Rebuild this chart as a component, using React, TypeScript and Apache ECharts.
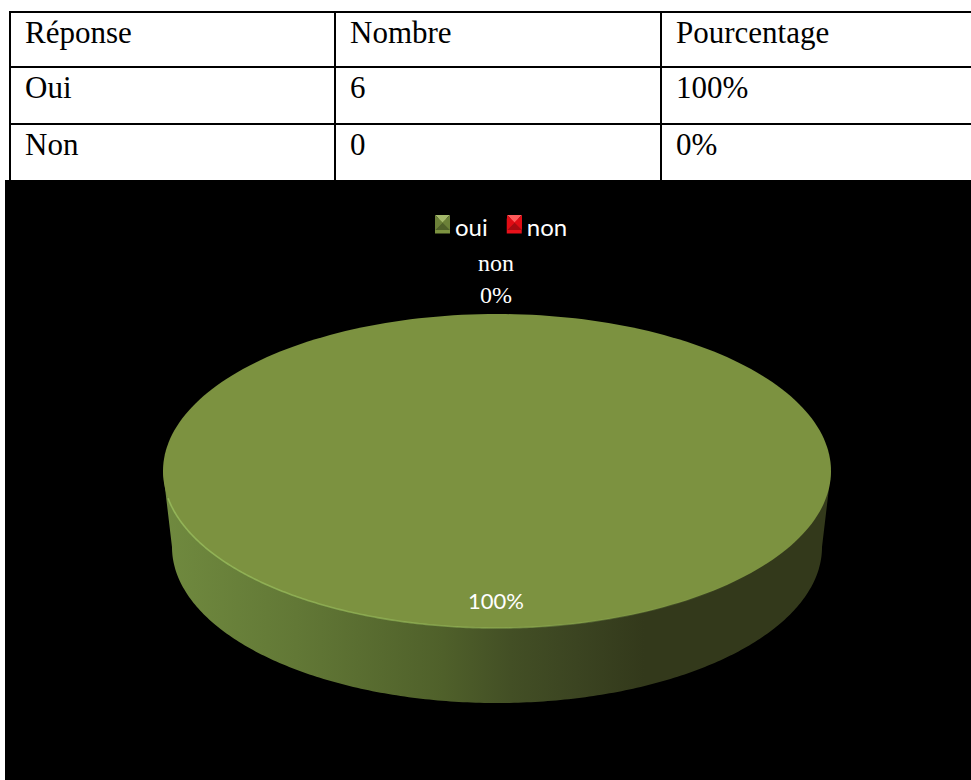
import React, { useEffect, useRef } from "react";
import * as echarts from "echarts";

const tableHeaders = ["Réponse", "Nombre", "Pourcentage"];
const answers = ["Oui", "Non"];
const counts = [6, 0];
const percentLabels = ["100%", "0%"];
const sliceNames = ["oui", "non"];
const sliceValues = [6, 0];
const sliceColors = ["#7c9240", "#e8111a"];

const W = 971;
const H = 780;
const serif = "'Liberation Serif', 'Times New Roman', serif";
const sans = "Lato, sans-serif";

// Table geometry
const colX = [10, 335, 661, W];
const rowY = [12, 67, 124, 180];

// Pie geometry: top face ellipse and the slightly narrower base ellipse
const cx = 497;
const topCy = 471;
const rx = 334;
const ry = 157;
const baseCy = 547;
const baseRx = 325;
const baseRy = 156;

function ellipseArc(cy: number, a: number, b: number, from: number, to: number, steps = 240) {
  const pts: number[][] = [];
  for (let i = 0; i <= steps; i++) {
    const t = ((from + ((to - from) * i) / steps) * Math.PI) / 180;
    pts.push([cx + a * Math.cos(t), cy + b * Math.sin(t)]);
  }
  return pts;
}

function tableElements() {
  const els: any[] = [];
  const line = (x1: number, y1: number, x2: number, y2: number) => ({
    type: "line",
    shape: { x1, y1, x2, y2 },
    style: { stroke: "#000", lineWidth: 2 },
  });
  rowY.slice(0, 3).forEach((y) => els.push(line(colX[0] - 1, y, W, y)));
  colX.slice(0, 3).forEach((x) => els.push(line(x, rowY[0], x, rowY[3])));
  const rows = [tableHeaders, ...answers.map((a, i) => [a, String(counts[i]), percentLabels[i]])];
  rows.forEach((row, r) =>
    row.forEach((cell, c) =>
      els.push({
        type: "text",
        x: colX[c] + 15,
        y: rowY[r] + 20,
        style: { text: cell, fill: "#000", font: `31px ${serif}`, textVerticalAlign: "middle" },
      })
    )
  );
  return els;
}

// Small bevelled squares laid over the legend swatches
function bevel(x: number, y: number, s: number, top: string, side: string, bottom: string) {
  const c = [x + s / 2, y + s / 2];
  const tri = (p: number[][], fill: string) => ({ type: "polygon", z: 10, shape: { points: p }, style: { fill } });
  return [
    tri([[x, y], [x + s, y], c], top),
    tri([[x + s, y], [x + s, y + s], c], side),
    tri([[x, y + s], [x + s, y + s], c], bottom),
    tri([[x, y], [x, y + s], c], side),
  ];
}

const total = sliceValues.reduce((a, b) => a + b, 0);

function renderSlice(params: any, api: any) {
  const value = api.value(0) as number;
  const share = value / total;
  const name = sliceNames[params.seriesIndex];
  const children: any[] = [];
  if (share > 0) {
    const sweep = share * 360;
    const side = [
      ...ellipseArc(topCy, rx, ry, 180, 180),
      ...ellipseArc(baseCy, baseRx, baseRy, 180, 0),
      ...ellipseArc(topCy, rx, ry, 0, 0),
    ];
    children.push({
      type: "polygon",
      shape: { points: side },
      style: {
        fill: new echarts.graphic.LinearGradient(0, 0, 1, 0, [
          { offset: 0, color: "#708a3f" },
          { offset: 0.2, color: "#627836" },
          { offset: 0.42, color: "#4f602a" },
          { offset: 0.52, color: "#434f25" },
          { offset: 0.62, color: "#3b4421" },
          { offset: 0.72, color: "#33391b" },
          { offset: 1, color: "#33391b" },
        ]),
      },
    });
    const face = ellipseArc(topCy, rx, ry, 0, sweep);
    children.push({ type: "polygon", shape: { points: face }, style: { fill: sliceColors[params.seriesIndex] } });
    children.push({
      type: "polyline",
      shape: { points: ellipseArc(topCy, rx, ry, 170, 40) },
      style: {
        fill: "none",
        lineWidth: 1.6,
        stroke: new echarts.graphic.LinearGradient(0, 0, 1, 0, [
          { offset: 0, color: "rgba(150,185,90,0.9)" },
          { offset: 0.55, color: "rgba(150,185,90,0.55)" },
          { offset: 1, color: "rgba(150,185,90,0)" },
        ]),
      },
    });
    children.push({
      type: "text",
      x: 496,
      y: 600,
      style: {
        text: `${Math.round(share * 100)}%`,
        fill: "#fff",
        font: `22px ${sans}`,
        textAlign: "center",
        textVerticalAlign: "middle",
      },
    });
  } else {
    children.push({
      type: "text",
      x: 496,
      y: 279,
      style: {
        text: `${name}\n${Math.round(share * 100)}%`,
        fill: "#fff",
        font: `24px ${serif}`,
        lineHeight: 32,
        textAlign: "center",
        textVerticalAlign: "middle",
      },
    });
  }
  return { type: "group", children };
}

export default function App() {
  const ref = useRef<HTMLDivElement>(null);
  useEffect(() => {
    const chart = echarts.init(ref.current!, null, { renderer: "svg" });
    chart.setOption({
      animation: false,
      backgroundColor: "#fff",
      legend: {
        left: 435,
        top: 214,
        padding: 0,
        itemWidth: 15,
        itemHeight: 15,
        itemGap: 19,
        icon: "rect",
        data: sliceNames,
        textStyle: { color: "#fff", fontFamily: sans, fontSize: 24 },
      },
      graphic: {
        elements: [
          {
            type: "rect",
            z: -1,
            shape: { x: 5, y: 180, width: W - 5, height: H - 180 },
            style: { fill: "#000" },
          },
          ...tableElements(),
          ...bevel(435, 215, 15, "#a3b86a", "#6b8038", "#4f6029"),
          ...bevel(507, 215, 15, "#ff5a5a", "#e00c14", "#a80a10"),
        ],
      },
      series: sliceNames.map((name, i) => ({
        type: "custom",
        name,
        coordinateSystem: "none",
        renderItem: renderSlice,
        itemStyle: { color: sliceColors[i] },
        data: [[sliceValues[i]]],
        silent: true,
      })),
    });
    return () => chart.dispose();
  }, []);
  return <div ref={ref} style={{ position: "absolute", left: 0, top: 0, width: W, height: H }} />;
}
